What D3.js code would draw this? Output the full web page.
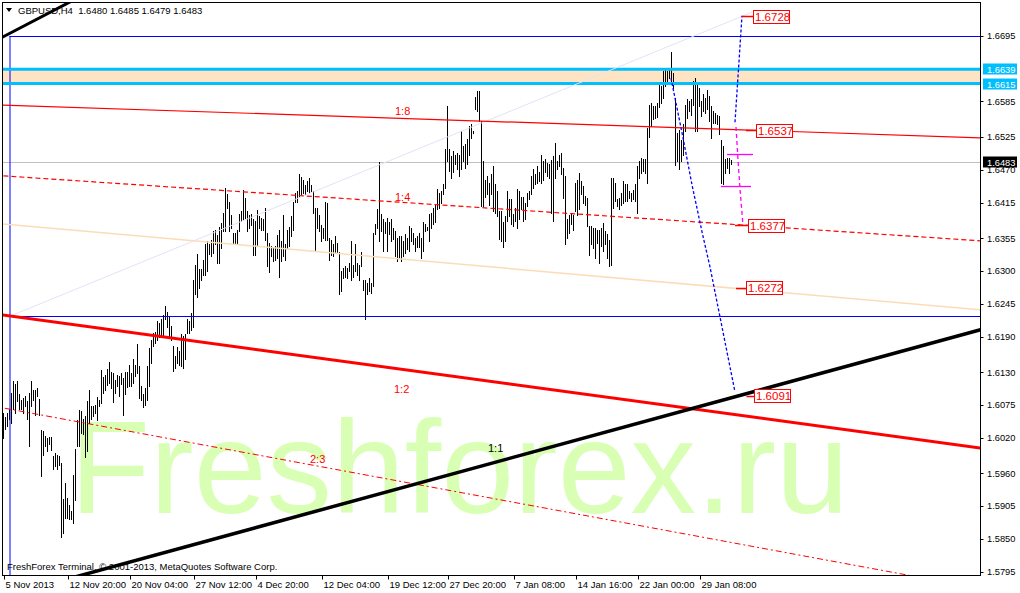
<!DOCTYPE html>
<html><head><meta charset="utf-8">
<script src="https://cdn.jsdelivr.net/npm/d3@7"></script>
<style>
html,body{margin:0;padding:0;background:#fff;}
svg{display:block;font-family:"Liberation Sans",Arial,sans-serif;}
text{white-space:pre;}
</style></head><body>
<svg id="c" width="1020" height="593"></svg>
<script>
// ---------------- DATA ----------------
const symbol = "GBPUSD,H4";
const lastOHLC = [1.6480, 1.6485, 1.6479, 1.6483];
const watermark = "Freshforex.ru";
const copyright = "FreshForex Terminal, \u00A9 2001-2013, MetaQuotes Software Corp.";
const POINT = 0.0001; // bar prices below are in points (1 point = 0.0001)

const highPts = [
16061,16054,16061,16067,16095,16115,16109,16114,16093,16083,
16086,16090,16081,16095,16114,16100,16100,16103,16085,16032,
16030,16022,16019,16021,16021,15988,15993,15991,15989,15977,
15917,15943,15918,15907,15896,15957,16001,16049,16066,16064,
16050,16055,16081,16100,16072,16072,16075,16088,16083,16133,
16121,16125,16134,16146,16129,16128,16117,16124,16123,16128,
16120,16130,16129,16142,16128,16151,16142,16177,16139,16106,
16092,16103,16139,16170,16184,16195,16197,16215,16212,16218,
16226,16240,16230,16223,16207,16173,16156,16172,16165,16193,
16190,16193,16218,16215,
16229,16285,16310,16328,16303,16302,16318,16344,16350,16344,
16352,16367,16369,16359,16373,16380,16397,16439,16428,16415,
16394,16363,16363,16369,16395,16400,16436,16422,16400,16394,
16395,16386,16383,16402,16391,16388,16386,16405,16363,16346,
16341,16338,16341,16360,16369,16349,16394,16344,16369,16374,
16391,16416,16430,16433,16462,16458,16453,16444,16450,16456,
16444,16433,16406,16405,16394,16377,16372,16415,16414,16355,
16352,16344,16358,16346,16331,16299,16304,16307,16304,16313,
16349,16310,16344,16313,16310,16332,16285,16285,16279,16288,
16279,16363,
16378,16403,16483,16395,16386,16381,16389,16381,16387,16372,
16367,16355,16358,16358,16350,16361,16355,16375,16372,16364,
16355,16358,16364,16355,16381,16378,16373,16395,16397,16406,
16411,16437,16431,16434,16445,16504,16577,16504,16493,16501,
16495,16498,16495,16535,16509,16512,16521,16543,16546,16535,
16591,16602,16602,16551,16484,16453,16459,16448,16462,16476,
16445,16434,16400,16400,16381,16392,16434,16420,16420,16395,
16406,16437,16434,16423,16423,16414,16431,16434,16459,16470,
16462,16476,16465,16495,16484,16487,16481,16479,16485,16493,
16515,16484,16495,
16498,16473,16459,16386,16394,16397,16394,16448,16453,16464,
16450,16442,16425,16422,16375,16375,16372,16372,16369,16369,
16372,16380,16366,16361,16352,16456,16456,16448,16420,16422,
16431,16450,16445,16445,16434,16431,16436,16445,16476,16484,
16490,16487,16487,16540,16579,16582,16576,16576,16582,16614,
16610,16635,16638,16635,16641,16668,16632,16590,16532,16537,
16520,16546,16579,16588,16585,16588,16618,16624,16616,16607,
16585,16596,16590,16604,16593,16576,16568,16565,16562,16560,
16520,16509,16487,16490,16490,16485];

const lowPts = [
16019,16034,16039,16050,16044,16067,16061,16081,16067,16067,
16061,16072,16050,16006,16072,16083,16058,16089,16057,15955,
15991,16005,15997,16008,15998,15966,15971,15966,15974,15853,
15859,15885,15885,15883,15882,15876,15915,16005,16005,16027,
16025,15987,15997,16044,16050,16055,16061,16049,16072,16078,
16095,16100,16107,16111,16103,16079,16095,16106,16089,16110,
16057,16092,16104,16106,16106,16111,16123,16128,16086,16083,
16071,16075,16082,16106,16145,16174,16179,16184,16189,16191,
16190,16218,16205,16190,16184,16131,16137,16145,16142,16139,
16137,16151,16195,16195,
16200,16205,16260,16255,16271,16285,16293,16293,16299,16328,
16324,16330,16345,16313,16313,16338,16366,16366,16405,16366,
16372,16344,16344,16346,16366,16383,16386,16388,16366,16372,
16377,16327,16327,16341,16372,16369,16369,16352,16307,16298,
16324,16316,16318,16321,16290,16316,16324,16318,16338,16341,
16358,16369,16416,16416,16425,16428,16430,16428,16433,16430,
16433,16397,16335,16372,16366,16349,16355,16352,16352,16318,
16327,16324,16330,16330,16261,16266,16288,16290,16288,16299,
16285,16290,16299,16293,16285,16307,16268,16218,16260,16265,
16262,16274,
16361,16372,16350,16367,16333,16364,16333,16361,16350,16353,
16325,16316,16322,16316,16325,16330,16336,16333,16350,16344,
16333,16339,16339,16322,16333,16367,16368,16350,16372,16378,
16381,16403,16406,16414,16428,16439,16484,16467,16456,16465,
16479,16470,16459,16470,16484,16473,16479,16495,16523,16532,
16571,16568,16551,16409,16409,16423,16428,16411,16428,16400,
16397,16392,16353,16350,16339,16350,16383,16392,16378,16375,
16383,16372,16386,16403,16383,16386,16409,16420,16428,16439,
16445,16448,16451,16448,16453,16465,16459,16456,16397,16383,
16456,16470,16476,
16462,16422,16344,16355,16364,16378,16369,16400,16394,16403,
16428,16414,16411,16375,16327,16344,16338,16322,16347,16313,
16341,16333,16344,16322,16308,16310,16406,16417,16408,16403,
16411,16414,16417,16417,16422,16417,16420,16417,16397,16456,
16464,16467,16464,16448,16524,16543,16554,16557,16558,16575,
16582,16590,16610,16616,16624,16618,16607,16478,16484,16470,
16484,16495,16534,16557,16568,16562,16579,16534,16534,16576,
16560,16568,16565,16571,16551,16523,16548,16548,16546,16529,
16448,16445,16464,16473,16464,16479];

// time axis: bar index of each label and its text
const timeTickBars = [0, 32, 63, 95, 126, 159, 192, 222, 255, 286, 317, 348];
const timeTickLabels = ["5 Nov 2013","12 Nov 20:00","20 Nov 04:00","27 Nov 12:00","4 Dec 20:00",
  "12 Dec 04:00","19 Dec 12:00","27 Dec 20:00","7 Jan 08:00","14 Jan 16:00","22 Jan 00:00","29 Jan 08:00"];
// price axis tick labels
const priceTicks = [1.6695,1.6585,1.6525,1.6470,1.6415,1.6355,1.6300,1.6245,1.6190,1.6130,
  1.6075,1.6020,1.5960,1.5905,1.5850,1.5795];

// horizontal levels
const bandTop = 1.6639, bandBottom = 1.6615;
const blueLevels = [1.6695, 1.6224];
const blueVerticalBar = 3;
const currentPrice = 1.6483;

// trend lines: [bar1, price1, bar2, price2] (extended as rays across the chart)
const line18 = [0, 1.6579, 488, 1.6524];
const line14 = [0, 1.6460, 488, 1.6351];
const lineBisque = [0, 1.6379, 488, 1.6235];
const line12 = [0, 1.6226, 488, 1.6003];
const line23 = [0, 1.6070, 488, 1.5767];
const line11 = [40, 1.5790, 488, 1.6201];
const lineTopLeft = [0, 1.6694, 32, 1.6750];
const lavenderSeg = [3, 1.6224, 374.25, 1.6735];

// forecast paths: [bar, price]
const forecastDown = [[333.75,1.6624],[339.75,1.6524],[344.25,1.6445],[349.25,1.6366],
  [353.25,1.6307],[358.25,1.6223],[365.75,1.6097]];
const forecastUp = [[365.75,1.6550],[369.25,1.6729]];
const forecastMagenta = [[366.25,1.6542],[367.25,1.6487],[368.25,1.6438],[369.75,1.6377]];
// magenta horizontal markers: [barFrom, barTo, price]
const magentaMarks = [[361.75, 374.75, 1.6497],[358.75, 373.75, 1.6443]];

// price labels: [price, tickFromBar, boxBar]
const priceLabels = [[1.6728, 369.25, 374.75],[1.6537, 371.25, 376.25],[1.6377, 365.75, 372.25],
  [1.6272, 366.25, 371.25],[1.6091, 371.5, 375.25]];

// ratio texts: [text, bar, price, colour]
const ratioTexts = [["1:8",195.75,1.6563,"#ff0000"],["1:4",195.75,1.6418,"#ff0000"],
  ["1:2",195.25,1.6095,"#ff0000"],["2:3",153.25,1.5978,"#ff0000"],["1:1",242.25,1.5996,"#000000"]];

// ---------------- DRAW ----------------
const svg = d3.select('#c');
const P = {l:3, t:3, r:980, b:575};
const x = d3.scaleLinear().domain([0, 488]).range([3.5, 979.5]);
const y = d3.scaleLinear().domain([1.5795, 1.6695]).range([571.7, 36]);

svg.append('rect').attr('width',1020).attr('height',593).attr('fill','#fff');
svg.append('defs').append('clipPath').attr('id','clip')
  .append('rect').attr('x',P.l).attr('y',P.t).attr('width',P.r-P.l).attr('height',P.b-P.t);

// watermark
svg.append('text').attr('x',70).attr('y',513).attr('font-size',131)
  .attr('fill','#d8ffb4').text(watermark);

const g = svg.append('g').attr('clip-path','url(#clip)');

// band
g.append('rect').attr('x',P.l).attr('width',P.r-P.l)
  .attr('y',y(bandTop)).attr('height',y(bandBottom)-y(bandTop)).attr('fill','#ffe4c4');

// current price line
g.append('line').attr('x1',P.l).attr('x2',P.r).attr('y1',Math.round(y(currentPrice))+0.5)
  .attr('y2',Math.round(y(currentPrice))+0.5).attr('stroke','#c0c0c0').attr('stroke-width',1);

// header & copyright (under the lines)
svg.append('path').attr('d','M6,8L12,8L9,12Z').attr('fill','#000');
svg.append('text').attr('x',18).attr('y',13.5).attr('font-size',9.5).attr('fill','#000')
  .text(symbol + "  " + lastOHLC.map(v=>v.toFixed(4)).join(" "));
svg.append('text').attr('x',7).attr('y',569.5).attr('font-size',9.5).attr('fill','#000')
  .text(copyright);

// bars
g.append('g').attr('shape-rendering','crispEdges').selectAll('line').data(highPts).join('line')
  .attr('x1',(d,i)=>x(i)).attr('x2',(d,i)=>x(i))
  .attr('y1',d=>y(d*POINT)-0.5).attr('y2',(d,i)=>y(lowPts[i]*POINT)+0.5)
  .attr('stroke','#000').attr('stroke-width',1);

// blue levels & vertical
blueLevels.forEach(p=>{
  const yy = Math.round(y(p))+0.5;
  g.append('line').attr('x1',x(blueVerticalBar)).attr('x2',P.r).attr('y1',yy).attr('y2',yy)
    .attr('stroke','#0000ff').attr('stroke-width',1);
});
g.append('line').attr('x1',x(blueVerticalBar)+0.5).attr('x2',x(blueVerticalBar)+0.5)
  .attr('y1',Math.round(y(blueLevels[0]))).attr('y2',P.b).attr('stroke','#0000ff').attr('stroke-width',1);

// band borders
[bandTop, bandBottom].forEach(p=>{
  g.append('line').attr('x1',P.l).attr('x2',P.r).attr('y1',y(p)).attr('y2',y(p))
    .attr('stroke','#00bfff').attr('stroke-width',3);
});

function ray(L){
  const [b1,p1,b2,p2] = L, s=(p2-p1)/(b2-b1);
  const a=-20, b=520;
  return [[x(a), y(p1+s*(a-b1))],[x(b), y(p1+s*(b-b1))]];
}
function drawLine(pts, color, w, dash){
  const l = g.append('path').attr('d', d3.line()(pts)).attr('fill','none')
    .attr('stroke',color).attr('stroke-width',w);
  if (dash) l.attr('stroke-dasharray',dash);
  return l;
}
drawLine(ray(lineBisque), '#fcdcb8', 1.5);
drawLine([[x(lavenderSeg[0]),y(lavenderSeg[1])],[x(lavenderSeg[2]),y(lavenderSeg[3])]], '#e2e2f8', 1);
drawLine(ray(line18), '#ff0000', 1.2);
drawLine(ray(line14), '#ff0000', 1.2, '5,3');
drawLine(ray(line23), '#ff0000', 1, '6,3,2,3');
drawLine(ray(line12), '#ff0000', 3);
drawLine(ray(line11), '#000000', 3.5);
drawLine(ray(lineTopLeft), '#000000', 3);

// forecast
const fl = d3.line().x(d=>x(d[0])).y(d=>y(d[1]));
g.append('path').attr('d',fl(forecastDown)).attr('fill','none').attr('stroke','#0000ff')
  .attr('stroke-width',1.3).attr('stroke-dasharray','3,2');
g.append('path').attr('d',fl(forecastUp)).attr('fill','none').attr('stroke','#0000ff')
  .attr('stroke-width',1.3).attr('stroke-dasharray','3,2');
g.append('path').attr('d',fl(forecastMagenta)).attr('fill','none').attr('stroke','#ff00ff')
  .attr('stroke-width',1.3).attr('stroke-dasharray','4,3');
magentaMarks.forEach(m=>{
  const yy=Math.round(y(m[2]))+0.5;
  g.append('line').attr('x1',x(m[0])).attr('x2',x(m[1])).attr('y1',yy).attr('y2',yy)
    .attr('stroke','#ff00ff').attr('stroke-width',1.3);
});

// ratio texts
ratioTexts.forEach(t=>{
  g.append('text').attr('x',x(t[1])).attr('y',y(t[2])).attr('font-size',11)
    .attr('fill',t[3]).text(t[0]);
});

// price labels
priceLabels.forEach(pl=>{
  const yy = y(pl[0]);
  g.append('line').attr('x1',x(pl[1])).attr('x2',x(pl[2])).attr('y1',Math.round(yy)+0.5).attr('y2',Math.round(yy)+0.5)
    .attr('stroke','#ff0000').attr('stroke-width',1.5);
  const bx = Math.round(x(pl[2]))+0.5, by = Math.round(yy-6.5)+0.5;
  g.append('rect').attr('x',bx).attr('y',by).attr('width',36).attr('height',13)
    .attr('fill','#fff').attr('stroke','#ff0000').attr('stroke-width',1);
  g.append('text').attr('x',bx+1.5).attr('y',by+10.5).attr('font-size',11.5)
    .attr('fill','#ff0000').text(pl[0].toFixed(4));
});

// frame
svg.append('rect').attr('x',2.5).attr('y',2.5).attr('width',P.r-2.5).attr('height',P.b-2.5+0.5)
  .attr('fill','none').attr('stroke','#000').attr('stroke-width',1).attr('shape-rendering','crispEdges');

// price axis
const ya = svg.append('g');
priceTicks.forEach(p=>{
  const yy = Math.round(y(p))+0.5;
  ya.append('line').attr('x1',980).attr('x2',983.5).attr('y1',yy).attr('y2',yy).attr('stroke','#000');
  ya.append('text').attr('x',987).attr('y',y(p)+3.2).attr('font-size',9.3).attr('fill','#000').text(p.toFixed(4));
});
function axisBox(p, bg){
  const yy = Math.round(y(p));
  ya.append('rect').attr('x',983).attr('y',yy-5.5).attr('width',34).attr('height',11).attr('fill',bg);
  ya.append('text').attr('x',987).attr('y',yy+3.5).attr('font-size',9.3).attr('fill','#fff').text(p.toFixed(4));
}
axisBox(bandTop,'#00bfff');
axisBox(bandBottom,'#00bfff');
axisBox(currentPrice,'#000');

// time axis
const xa = svg.append('g');
timeTickBars.forEach((b,i)=>{
  const xx = Math.round(x(b))+0.5;
  xa.append('line').attr('x1',xx).attr('x2',xx).attr('y1',575).attr('y2',579.5).attr('stroke','#000');
  xa.append('text').attr('x',xx+1).attr('y',587.5).attr('font-size',9.5).attr('fill','#000').text(timeTickLabels[i]);
});
</script>
</body></html>
